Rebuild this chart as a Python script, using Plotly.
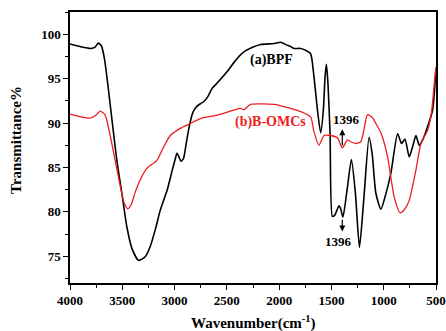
import plotly.graph_objects as go

# FT-IR spectra: wavenumber (cm^-1) vs transmittance (%)
bpf_wn = [4000, 3900, 3800, 3760, 3730, 3700, 3670, 3640, 3610, 3580, 3552, 3504, 3456,
          3408, 3345, 3281, 3233, 3180, 3137, 3070, 3022, 2995, 2977, 2958, 2939, 2915,
          2890, 2860, 2825, 2785, 2750, 2722, 2680, 2641, 2593, 2497, 2420, 2338, 2260,
          2178, 2050, 1986, 1930, 1890, 1859, 1795, 1747, 1699, 1667, 1634, 1603, 1577,
          1561, 1548, 1533, 1513, 1491, 1470, 1427, 1410, 1390, 1350, 1309, 1270, 1232,
          1190, 1140, 1110, 1075, 1027, 980, 931, 867, 829, 797, 756, 720, 692, 660, 620,
          580, 532, 500]
bpf_t = [98.9, 98.6, 98.4, 98.55, 99.0, 98.7, 97.2, 94.5, 91.5, 88.5, 85.8, 82.1, 78.3,
         75.9, 74.55, 74.95, 76.1, 78.2, 80.2, 82.5, 84.7, 85.9, 86.6, 86.2, 85.7, 86.0,
         87.6, 89.6, 91.2, 91.9, 92.2, 92.4, 93.0, 93.9, 94.5, 95.8, 97.0, 98.0, 98.5,
         98.85, 98.95, 99.1, 98.8, 98.6, 98.4, 98.4, 98.2, 97.8, 95.2, 91.5, 88.9, 91.5,
         95.2, 96.6, 94.4, 88.8, 79.5, 79.6, 80.7, 80.3, 79.4, 82.5, 85.9, 82.0, 76.0,
         81.5, 88.4, 86.5, 82.1, 80.3, 82.0, 84.4, 88.8, 87.7, 88.2, 86.2, 87.5, 88.6,
         87.5, 88.3, 89.6, 91.5, 96.2]

omc_wn = [4000, 3900, 3808, 3750, 3712, 3664, 3616, 3568, 3521, 3482, 3447, 3415, 3377,
          3329, 3265, 3169, 3105, 3041, 2945, 2849, 2753, 2593, 2434, 2370, 2338, 2274,
          2150, 2050, 2000, 1890, 1795, 1699, 1667, 1619, 1571, 1507, 1443, 1396, 1347,
          1315, 1267, 1219, 1190, 1155, 1107, 1075, 1027, 963, 900, 842, 800, 756, 692,
          644, 580, 545, 516, 500]
omc_t = [91.0, 90.7, 90.55, 90.9, 91.35, 90.9, 88.6, 85.8, 83.0, 81.0, 80.35, 80.8, 82.2,
         83.6, 84.9, 85.8, 87.3, 88.6, 89.4, 89.95, 90.5, 90.9, 91.45, 91.65, 91.5, 92.1,
         92.15, 92.1, 92.0, 91.65, 91.3, 90.7, 89.0, 87.5, 88.6, 88.6, 88.35, 87.2, 88.1,
         87.9, 87.7, 87.9, 89.2, 90.95, 90.6, 89.95, 88.9, 86.2, 81.7, 79.9, 80.3, 81.3,
         84.7, 87.7, 89.2, 91.0, 94.5, 96.3]

x_ticks = [4000, 3500, 3000, 2500, 2000, 1500, 1000, 500]
y_ticks = [75, 80, 85, 90, 95, 100]
band_1396 = 1396

FONT = "Liberation Serif"

fig = go.Figure()
fig.add_trace(go.Scatter(x=bpf_wn, y=bpf_t, mode="lines", name="(a)BPF",
                         line=dict(color="black", width=1.6, shape="spline", smoothing=0.6)))
fig.add_trace(go.Scatter(x=omc_wn, y=omc_t, mode="lines", name="(b)B-OMCs",
                         line=dict(color="#ee1c1c", width=1.3, shape="spline", smoothing=0.6)))

axis_common = dict(
    showline=True, linecolor="black", linewidth=1.5, mirror=True,
    ticks="outside", ticklen=5, tickwidth=1.2, tickcolor="black",
    showgrid=False, zeroline=False, automargin=False,
    tickfont=dict(family=FONT, size=13, color="black", weight="bold"),
)

fig.update_xaxes(range=[4000, 500], tickvals=x_ticks,
                 minor=dict(dtick=250, ticks="outside", ticklen=3, tickwidth=1.2,
                            tickcolor="black", showgrid=False),
                 **axis_common)
fig.update_yaxes(range=[72, 102.5], tickvals=y_ticks,
                 minor=dict(dtick=2.5, ticks="outside", ticklen=3, tickwidth=1.2,
                            tickcolor="black", showgrid=False),
                 **axis_common)

ann = []
bold = lambda size, color="black": dict(family=FONT, size=size, color=color, weight="bold")

ann.append(dict(x=2073, y=97.1, xref="x", yref="y", text="(a)BPF", showarrow=False,
                font=bold(14)))
ann.append(dict(x=2087, y=90.15, xref="x", yref="y", text="(b)B-OMCs", showarrow=False,
                font=bold(14, "#ee1c1c")))

# 1396 band markers
ann.append(dict(x=band_1396, y=89.3, ax=band_1396, ay=87.3, xref="x", yref="y",
                axref="x", ayref="y", text="", showarrow=True, arrowhead=2,
                arrowsize=1, arrowwidth=1.2, arrowcolor="black"))
ann.append(dict(x=1353, y=90.35, xref="x", yref="y", text=str(band_1396), showarrow=False,
                font=bold(13)))
ann.append(dict(x=band_1396, y=77.8, ax=band_1396, ay=79.3, xref="x", yref="y",
                axref="x", ayref="y", text="", showarrow=True, arrowhead=2,
                arrowsize=1, arrowwidth=1.2, arrowcolor="black"))
ann.append(dict(x=1430, y=76.65, xref="x", yref="y", text=str(band_1396), showarrow=False,
                font=bold(13)))

# axis titles
ann.append(dict(x=0.5, y=-0.145, xref="paper", yref="paper", xanchor="center",
                yanchor="middle", text="Wavenumber(cm<sup>-1</sup>)", showarrow=False,
                font=bold(15)))
ann.append(dict(x=-0.148, y=0.527, xref="paper", yref="paper", xanchor="center",
                yanchor="middle", text="Transmittance%", textangle=-90, showarrow=False,
                font=bold(15)))

fig.update_layout(
    width=446, height=331,
    margin=dict(l=70, r=10, t=12, b=48),
    paper_bgcolor="white", plot_bgcolor="white",
    showlegend=False,
    annotations=ann,
)

fig.write_html("out.html")
